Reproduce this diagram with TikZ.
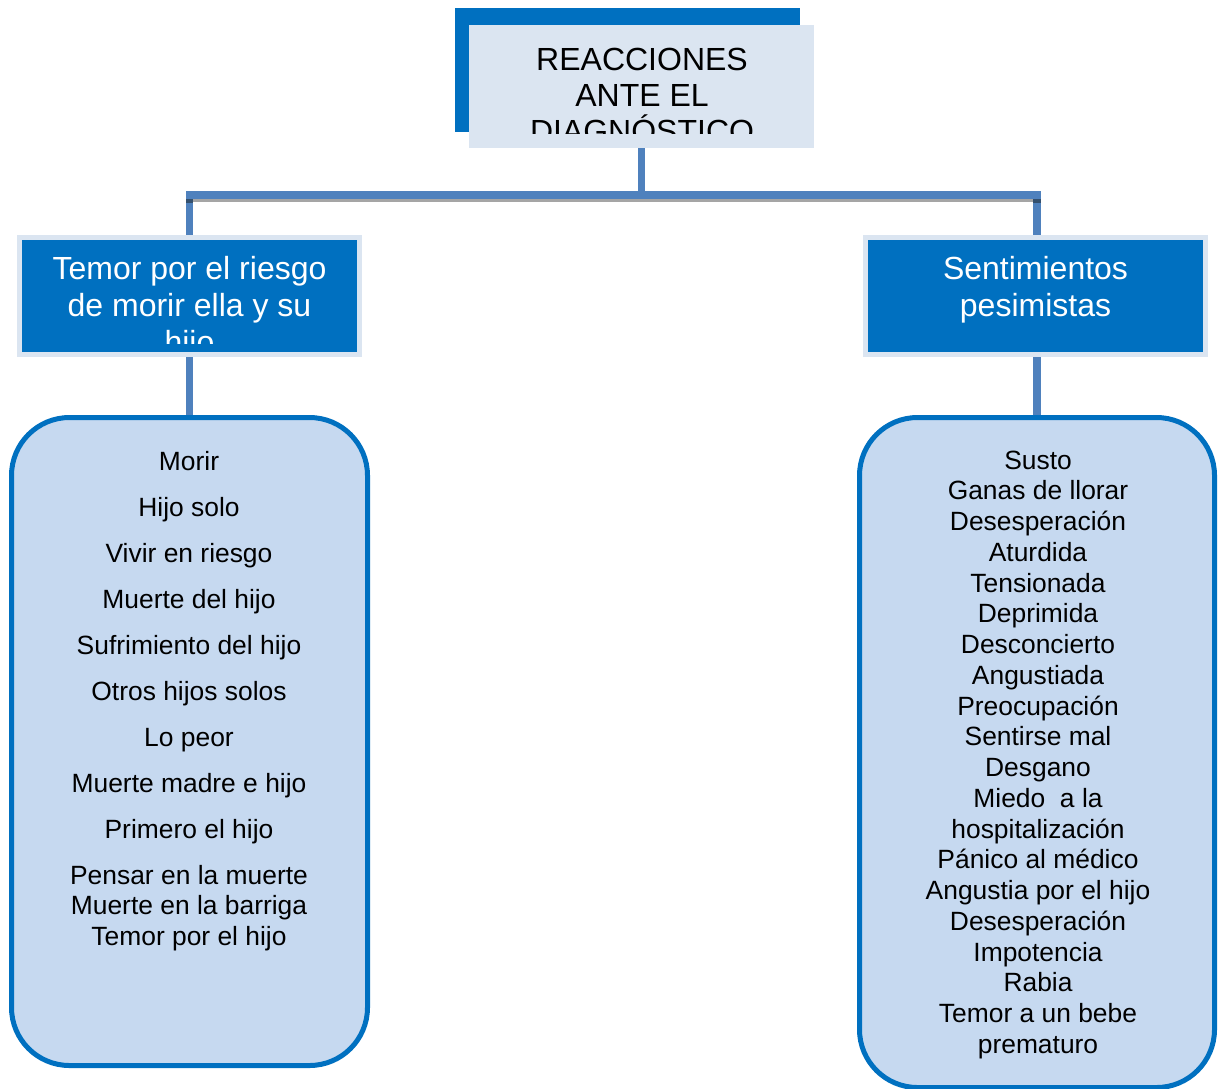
\documentclass[tikz,border=0pt]{standalone}
\usepackage{fontspec}
\setmainfont{Liberation Sans}
\usetikzlibrary{backgrounds}
\definecolor{dblue}{HTML}{0070C0}
\definecolor{paleblue}{HTML}{DBE5F1}
\definecolor{connblue}{HTML}{4F81BD}
\definecolor{listfill}{HTML}{C6D9F0}
\definecolor{shadowgray}{HTML}{A5A5A5}
\definecolor{cornerdark}{HTML}{34506E}
\tikzset{
  topbox/.style={fill=paleblue, draw=none, minimum width=345pt, minimum height=123pt, inner sep=0pt, outer sep=0pt},
  headbox/.style={fill=dblue, draw=paleblue, line width=5pt, minimum width=340pt, minimum height=117pt, inner sep=0pt, outer sep=0pt},
  listbox/.style={fill=listfill, draw=dblue, line width=5pt, rounded corners=58pt, inner sep=0pt, outer sep=0pt},
  conn/.style={draw=connblue, line width=7.3pt, line join=miter, line cap=butt},
  shadowline/.style={draw=shadowgray, line width=4.6pt, line cap=butt},
  bigtext/.style={font=\fontsize{32}{37}\selectfont, anchor=base, inner sep=0pt},
  headtext/.style={bigtext, text=white},
  listtext/.style={font=\fontsize{26.4}{30.5}\selectfont, anchor=base, inner sep=0pt, text=black},
}
\begin{document}
\begin{tikzpicture}[x=1pt,y=-1pt]
\useasboundingbox (0,0) rectangle (1222,1088);
% top box with its dark back plate
\fill[dblue] (455,8) rectangle (800,132);
\node[topbox] (top) at (641.5,86.5) {};
\begin{scope}
  \clip (455,0) rectangle (820,133.3);
  \node[bigtext] (t1) at (642,70) {REACCIONES};
  \node[bigtext] (t2) at (642,106) {ANTE EL};
  \node[bigtext] (t3) at (642,142) {DIAGNÓSTICO};
\end{scope}
% headers
\node[headbox] (lh) at (189.5,296) {};
\node[headbox] (rh) at (1035.5,296) {};
\begin{scope}
  \clip (0,230) rectangle (1222,343);
  \node[headtext] (lh1) at (189.5,279) {Temor por el riesgo};
  \node[headtext] (lh2) at (189.5,316) {de morir ella y su};
  \node[headtext] (lh3) at (189.5,353) {hijo};
\end{scope}
\node[headtext] (rh1) at (1035.5,279) {Sentimientos};
\node[headtext] (rh2) at (1035.5,316) {pesimistas};
% list boxes
\node[listbox, minimum width=356pt, minimum height=648pt] (lbox) at (189.5,741.5) {};
\node[listbox, minimum width=355pt, minimum height=670pt] (rbox) at (1037,752.5) {};
% connectors
\coordinate (barL) at (lh.north |- 0,195);
\coordinate (barR) at ([xshift=1.5pt]rh.north |- 0,195);
\begin{pgfonlayer}{background}
  \draw[shadowline] ([yshift=-5pt]barL) -- ([yshift=-5pt]barR);
  \draw[conn] (top.south) |- (barL) -- (lh.north);
  \draw[conn] (top.south) |- (barR) -- ([xshift=1.5pt]rh.north);
  \fill[cornerdark] ([xshift=-3.65pt,yshift=-3.65pt]barL) rectangle ([xshift=3.65pt,yshift=-8.3pt]barL);
  \fill[cornerdark] ([xshift=-3.65pt,yshift=-3.65pt]barR) rectangle ([xshift=3.65pt,yshift=-8.3pt]barR);
  \draw[conn] (lh.south) -- (lbox.north);
  \draw[conn] ([xshift=1.5pt]rh.south) -- (rbox.north);
\end{pgfonlayer}
% left list
\foreach \s [count=\i] in {Morir, Hijo solo, Vivir en riesgo, Muerte del hijo, Sufrimiento del hijo, Otros hijos solos, Lo peor, Muerte madre e hijo, Primero el hijo, Pensar en la muerte}
  \node[listtext] (L\i) at (189,{470+46*(\i-1)}) {\s};
\node[listtext] (L11) at (189,914.5) {Muerte en la barriga};
\node[listtext] (L12) at (189,945) {Temor por el hijo};
% right list
\foreach \s [count=\i] in {Susto, Ganas de llorar, Desesperación, Aturdida, Tensionada, Deprimida, Desconcierto, Angustiada, Preocupación, Sentirse mal, Desgano, Miedo \ a la, hospitalización, Pánico al médico, Angustia por el hijo, Desesperación, Impotencia, Rabia, Temor a un bebe, prematuro}
  \node[listtext] (R\i) at (1038,{469+30.75*(\i-1)}) {\s};
\end{tikzpicture}
\end{document}
